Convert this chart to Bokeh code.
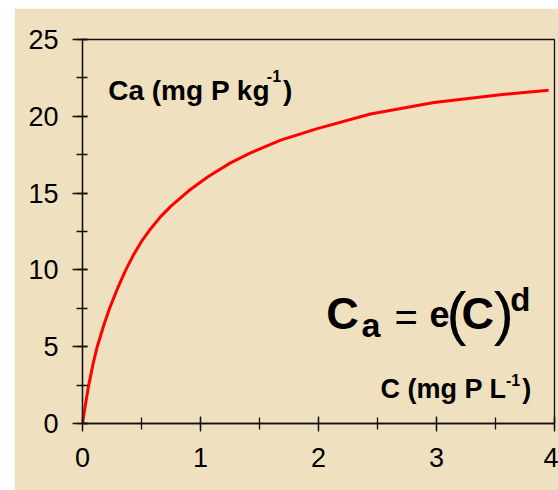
from bokeh.plotting import figure
from bokeh.models import Label, Range1d, SingleIntervalTicker, Spacer
from bokeh.layouts import column, row
from bokeh.embed import file_html
from bokeh.resources import INLINE

# Sorption curve: solution concentration C (mg P/L) vs sorbed P Ca (mg P/kg)
conc = [0.0, 0.02, 0.05, 0.09, 0.125, 0.18, 0.23, 0.30, 0.364, 0.43, 0.50,
        0.58, 0.66, 0.75, 0.90, 1.06, 1.25, 1.42, 1.68, 1.99, 2.44, 2.98,
        3.54, 3.95]
sorbed = [0.0, 1.0, 2.4, 3.9, 5.0, 6.4, 7.5, 8.85, 9.95, 10.95, 11.85,
          12.7, 13.45, 14.15, 15.15, 16.05, 16.95, 17.6, 18.45, 19.2, 20.15,
          20.9, 21.4, 21.7]

x_ticks = [0, 1, 2, 3, 4]
y_ticks = [0, 5, 10, 15, 20, 25]

BG = "#efe0bf"
FONT = "Liberation Sans"

p = figure(width=544, height=482,
           x_range=Range1d(x_ticks[0], x_ticks[-1]),
           y_range=Range1d(y_ticks[0], y_ticks[-1]),
           output_backend="svg", toolbar_location=None,
           min_border_left=68, min_border_right=4,
           min_border_top=31, min_border_bottom=67)

p.background_fill_color = BG
p.border_fill_color = BG
p.grid.visible = False
p.outline_line_color = "#111111"
p.outline_line_width = 1.3

p.xaxis.ticker = SingleIntervalTicker(interval=1, num_minor_ticks=2)
p.yaxis.ticker = SingleIntervalTicker(interval=5, num_minor_ticks=2)

for ax in (p.xaxis[0], p.yaxis[0]):
    ax.axis_line_color = "#111111"
    ax.axis_line_width = 1.3
    ax.major_tick_line_color = "#111111"
    ax.major_tick_line_width = 1.3
    ax.minor_tick_line_color = "#111111"
    ax.minor_tick_line_width = 1.3
    ax.major_label_text_font = FONT
    ax.major_label_text_font_size = "27px"
    ax.major_label_text_color = "#000000"

p.yaxis.major_tick_out = 10
p.yaxis.major_tick_in = 5
p.yaxis.minor_tick_out = 6
p.yaxis.minor_tick_in = 5
p.yaxis.major_label_standoff = 14

p.xaxis.major_tick_out = 8
p.xaxis.major_tick_in = 7
p.xaxis.minor_tick_out = 6
p.xaxis.minor_tick_in = 6
p.xaxis.major_label_standoff = 16

p.line(conc, sorbed, line_color="#ff0000", line_width=3, line_join="round")


def add_text(x, y, text, size, bold=True, align="left"):
    p.add_layout(Label(x=x, y=y, text=text, text_font=FONT,
                       text_font_size=f"{size}px",
                       text_font_style="bold" if bold else "normal",
                       text_color="#000000", text_align=align,
                       text_baseline="alphabetic"))


# axis titles placed inside the frame
add_text(0.218, 21.67, "Ca (mg P kg", 28)
add_text(1.562, 22.62, "-1", 16)
add_text(1.70, 21.67, ")", 28)

add_text(2.525, 2.24, "C (mg P L", 27)
add_text(3.588, 2.83, "-1", 16)
add_text(3.726, 2.24, ")", 27)

# Freundlich-type equation
add_text(2.065, 7.13, "C", 45)
add_text(2.364, 6.41, "a", 34)
add_text(2.744, 6.93, "=", 40, bold=False, align="center")
add_text(2.941, 7.13, "e", 36)
add_text(3.084, 7.13, "(", 60, bold=False)
add_text(3.212, 7.13, "C", 45)
add_text(3.485, 7.13, ")", 60, bold=False)
add_text(3.625, 8.10, "d", 33)

layout = column(Spacer(width=558, height=8),
                row(Spacer(width=14, height=482), p))

open("out.html", "w").write(file_html(layout, INLINE))
